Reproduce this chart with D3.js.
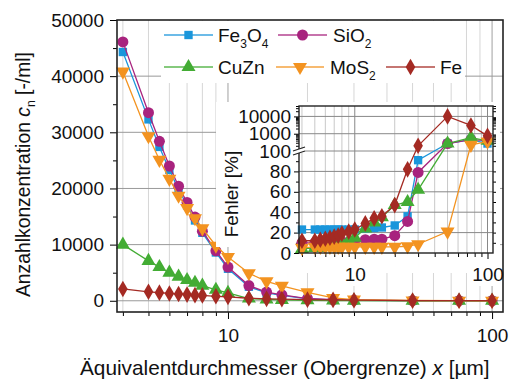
<!DOCTYPE html>
<html><head><meta charset="utf-8">
<script src="https://cdn.jsdelivr.net/npm/d3@7"></script>
<style>
html,body{margin:0;padding:0;background:#fff;}
svg{display:block;font-family:"Liberation Sans",Arial,sans-serif;}
</style></head>
<body><svg id="c" width="513" height="379"></svg>
<script>
// ---- data ----
const sizes = [4,5,5.5,6,6.5,7,7.5,8,9,10,12,14,16,20,25,30,50,75,100];
const seriesNames = ["Fe3O4","SiO2","CuZn","MoS2","Fe"];
const colors = ["#1a96db","#a8237e","#43ac34","#f39320","#a42a23"];
const shapes = ["square","circle","triangle","triangleDown","diamond"];
// main: number concentration [-/ml]
const concFe3O4 = [44300,32300,27400,23300,19800,17000,14300,12100,8600,5700,2500,1400,950,350,150,80,20,8,4];
const concSiO2  = [46100,33500,28400,24000,20400,17500,14900,12400,8900,6000,2700,1550,1050,400,200,100,25,10,5];
const concCuZn  = [10000,7100,6000,5000,4300,3700,3200,2700,1950,1400,400,250,150,80,40,30,5,2,1];
const concMoS2  = [40800,29300,25100,21700,18700,16500,14700,12900,9800,7800,4900,3450,2650,1500,500,200,50,10,5];
const concFe    = [2100,1600,1450,1300,1200,1100,1000,950,800,700,450,350,300,200,150,100,30,15,10];
// inset: error [%]
const errFe3O4 = [23,23,23,23,23,23,23,23,23,23,24,24.5,25,27,36,91,270,450,270];
const errSiO2  = [10,10,10,10,10,10,11,11,11,12,13,13.5,13.5,17,31,79,270,450,400];
const errCuZn  = [4,5,5,6,7,8,9,10,12,15,24,30,35,47,50,62,270,600,390];
const errMoS2  = [5,6,6,6,6,6,6,6,6,6,6,6,6,6,6.6,8.6,21,226,350];
const errFe    = [12,12,13,14,15,16,17,19,21,23,29,34,36,47,82,200,10000,3000,750];
// ticks
const mainYTicks = [0,10000,20000,30000,40000,50000];
const xTickLabels = [10,100];
const insetLinTicks = [0,20,40,60,80];
const insetLogTicks = [100,1000,10000];

const conc = [concFe3O4,concSiO2,concCuZn,concMoS2,concFe];
const errs = [errFe3O4,errSiO2,errCuZn,errMoS2,errFe];

const svg = d3.select("#c");
const FS = 19;

// ---- scales ----
const x = d3.scaleLog().domain([3.8,110]).range([117,503]);
const y = d3.scaleLinear().domain([-2000,50000]).range([312,20]);
const xi = d3.scaleLog().domain([3.8,110]).range([299,493]);
const yiLin = d3.scaleLinear().domain([0,100]).range([253,151]);
const yiLog = d3.scaleLog().domain([100,40000]).range([151,106]);
const yi = v => v <= 100 ? yiLin(v) : yiLog(v);

const minorX = [];
[1,10].forEach(d=>{for(let k=2;k<=9;k++){const v=d*k; if(v>=3.8&&v<=110) minorX.push(v);}});
const majorX = [10,100];

function symbolPath(shape,size){
  const map={square:d3.symbolSquare,circle:d3.symbolCircle,triangle:d3.symbolTriangle,diamond:d3.symbolDiamond,triangleDown:d3.symbolTriangle};
  return d3.symbol().type(map[shape]).size(size)();
}
const sizesSym = {square:70,circle:95,triangle:85,triangleDown:85,diamond:80};

// ---- main plot ----
const g = svg.append("g");
g.selectAll(".vmin").data(minorX).join("line")
  .attr("x1",d=>x(d)).attr("x2",d=>x(d)).attr("y1",20).attr("y2",312)
  .attr("stroke","#d6d6d6").attr("stroke-width",1);
g.selectAll(".vmaj").data(majorX).join("line")
  .attr("x1",d=>x(d)).attr("x2",d=>x(d)).attr("y1",20).attr("y2",312)
  .attr("stroke","#a0a0a0").attr("stroke-width",1);
g.selectAll(".hmaj").data(mainYTicks.slice(0,5)).join("line")
  .attr("x1",117).attr("x2",503).attr("y1",d=>y(d)).attr("y2",d=>y(d))
  .attr("stroke","#999").attr("stroke-width",1);

const yAxis = d3.axisLeft(y).tickValues(mainYTicks).tickFormat(d3.format("d")).tickSize(7).tickPadding(6);
const gy = g.append("g").attr("transform","translate(117,0)").call(yAxis);
gy.select(".domain").remove();
gy.selectAll("text").attr("font-size",FS).attr("fill","#111");
g.append("g").attr("transform","translate(117,0)")
  .call(d3.axisLeft(y).tickValues(d3.range(5000,50000,10000)).tickFormat("").tickSize(4))
  .select(".domain").remove();

const xAxis = d3.axisBottom(x).tickValues(xTickLabels).tickFormat(d3.format("d")).tickSize(7).tickPadding(10);
const gx = g.append("g").attr("transform","translate(0,312)").call(xAxis);
gx.select(".domain").remove();
gx.selectAll("text").attr("font-size",FS).attr("fill","#111");
g.append("g").attr("transform","translate(0,312)")
  .call(d3.axisBottom(x).tickValues(minorX).tickFormat("").tickSize(4))
  .select(".domain").remove();

const line = d3.line().x((d,i)=>x(sizes[i])).y(d=>y(d));
conc.forEach((arr,s)=>{
  const sg = g.append("g");
  sg.append("path").attr("d",line(arr)).attr("fill","none").attr("stroke",colors[s]).attr("stroke-width",1.3);
  sg.selectAll("path.m").data(arr).join("path").attr("class","m")
    .attr("d",symbolPath(shapes[s],sizesSym[shapes[s]]))
    .attr("transform",(d,i)=>`translate(${x(sizes[i])},${y(d)})${shapes[s]==="triangleDown"?" rotate(180)":""}`)
    .attr("fill",colors[s]);
});

g.append("rect").attr("x",117).attr("y",20).attr("width",386).attr("height",292)
  .attr("fill","none").attr("stroke","#222").attr("stroke-width",1.6);

// axis titles (fitted to reference extents)
const yt = svg.append("text").attr("font-size",FS).attr("fill","#111");
yt.append("tspan").text("Anzahlkonzentration ");
yt.append("tspan").attr("font-style","italic").text("c");
yt.append("tspan").attr("class","sub").attr("font-size",12).attr("dy",5).text("n");
yt.append("tspan").attr("dy",-5).text(" [-/ml]");
{
  const w = yt.node().getComputedTextLength();
  const fs = FS*245/w;
  yt.attr("font-size",fs).select(".sub").attr("font-size",fs*0.63);
  yt.attr("transform","translate(30,297) rotate(-90)").attr("text-anchor","start");
}

const xt = svg.append("text").attr("font-size",FS).attr("fill","#111");
xt.append("tspan").text("Äquivalentdurchmesser (Obergrenze) ");
xt.append("tspan").attr("font-style","italic").text("x");
xt.append("tspan").text(" [µm]");
{
  const w = xt.node().getComputedTextLength();
  xt.attr("font-size",FS*410/w).attr("x",80).attr("y",375).attr("text-anchor","start");
}

// ---- legend ----
const lg = svg.append("g");
lg.append("rect").attr("x",161).attr("y",21).attr("width",304).attr("height",62).attr("fill","#fff");
const legendPos = [
  {s:0,x1:164,x2:213,ty:35,tx:218,label:[["Fe",0],["3",1],["O",0],["4",1]]},
  {s:1,x1:278,x2:327,ty:35,tx:333,label:[["SiO",0],["2",1]]},
  {s:2,x1:164,x2:213,ty:67,tx:218,label:[["CuZn",0]]},
  {s:3,x1:276,x2:324,ty:67,tx:330,label:[["MoS",0],["2",1]]},
  {s:4,x1:386,x2:435,ty:67,tx:440,label:[["Fe",0]]}
];
legendPos.forEach(p=>{
  lg.append("line").attr("x1",p.x1).attr("x2",p.x2).attr("y1",p.ty).attr("y2",p.ty)
    .attr("stroke",colors[p.s]).attr("stroke-width",1.5).attr("opacity",0.85);
  lg.append("path").attr("d",symbolPath(shapes[p.s],sizesSym[shapes[p.s]]))
    .attr("transform",`translate(${(p.x1+p.x2)/2},${p.ty})${shapes[p.s]==="triangleDown"?" rotate(180)":""}`)
    .attr("fill",colors[p.s]);
  const t = lg.append("text").attr("x",p.tx).attr("y",p.ty+7).attr("font-size",FS).attr("fill","#111");
  let sub=false;
  p.label.forEach(([str,isSub])=>{
    const ts = t.append("tspan").text(str);
    if(isSub && !sub){ts.attr("font-size",12).attr("dy",6); sub=true;}
    else if(!isSub && sub){ts.attr("dy",-6); sub=false;}
    else if(isSub){ts.attr("font-size",12);}
  });
});

// ---- inset ----
const ig = svg.append("g");
// white backing of the inset layer
[[216,102,284,145],[268,247,232,15],[299,262,201,11],[343,266,22,20],[474,266,28,20]].forEach(r=>{
  ig.append("rect").attr("x",r[0]).attr("y",r[1]).attr("width",r[2]).attr("height",r[3]).attr("fill","#fff");
});
ig.selectAll(".ivmin").data(minorX).join("line")
  .attr("x1",d=>xi(d)).attr("x2",d=>xi(d)).attr("y1",106).attr("y2",253)
  .attr("stroke","#c8c8c8").attr("stroke-width",1);
ig.selectAll(".ivmaj").data(majorX).join("line")
  .attr("x1",d=>xi(d)).attr("x2",d=>xi(d)).attr("y1",106).attr("y2",253)
  .attr("stroke","#888").attr("stroke-width",1);
ig.selectAll(".ihl").data([20,40,60,80,100,1000,10000]).join("line")
  .attr("x1",299).attr("x2",493).attr("y1",d=>yi(d)).attr("y2",d=>yi(d))
  .attr("stroke","#888").attr("stroke-width",1);

const giy1 = ig.append("g").attr("transform","translate(299,0)")
  .call(d3.axisLeft(yiLin).tickValues(insetLinTicks).tickFormat(d3.format("d")).tickSize(5).tickPadding(3));
giy1.select(".domain").remove();
giy1.selectAll("text").attr("font-size",FS).attr("fill","#111");
ig.append("g").attr("transform","translate(299,0)")
  .call(d3.axisLeft(yiLin).tickValues([10,30,50,70,90]).tickFormat("").tickSize(3)).select(".domain").remove();
const giy2 = ig.append("g").attr("transform","translate(299,0)")
  .call(d3.axisLeft(yiLog).tickValues(insetLogTicks).tickFormat(d3.format("d")).tickSize(5).tickPadding(3));
giy2.select(".domain").remove();
giy2.selectAll("text").attr("font-size",FS).attr("fill","#111");
const logMinor=[];
[100,1000,10000].forEach(d=>{for(let k=2;k<=9;k++){const v=d*k; if(v<=40000) logMinor.push(v);}});
ig.append("g").attr("transform","translate(299,0)")
  .call(d3.axisLeft(yiLog).tickValues(logMinor).tickFormat("").tickSize(3)).select(".domain").remove();
ig.append("g").attr("transform","translate(493,0)")
  .call(d3.axisRight(yiLin).tickValues(d3.range(10,100,10)).tickFormat("").tickSize(3)).select(".domain").remove();
ig.append("g").attr("transform","translate(493,0)")
  .call(d3.axisRight(yiLog).tickValues(logMinor).tickFormat("").tickSize(3)).select(".domain").remove();

const gix = ig.append("g").attr("transform","translate(0,253)")
  .call(d3.axisBottom(xi).tickValues(xTickLabels).tickFormat(d3.format("d")).tickSize(6).tickPadding(9));
gix.select(".domain").remove();
gix.selectAll("text").attr("font-size",FS).attr("fill","#111");
ig.append("g").attr("transform","translate(0,253)")
  .call(d3.axisBottom(xi).tickValues(minorX).tickFormat("").tickSize(4)).select(".domain").remove();

const iline = d3.line().x((d,i)=>xi(sizes[i])).y(d=>yi(d));
errs.forEach((arr,s)=>{
  const sg = ig.append("g");
  sg.append("path").attr("d",iline(arr)).attr("fill","none").attr("stroke",colors[s]).attr("stroke-width",1.3);
  sg.selectAll("path.m").data(arr).join("path").attr("class","m")
    .attr("d",symbolPath(shapes[s],sizesSym[shapes[s]]))
    .attr("transform",(d,i)=>`translate(${xi(sizes[i])},${yi(d)})${shapes[s]==="triangleDown"?" rotate(180)":""}`)
    .attr("fill",colors[s]);
});

ig.append("rect").attr("x",299).attr("y",106).attr("width",194).attr("height",147)
  .attr("fill","none").attr("stroke","#222").attr("stroke-width",1.4);
const by = yiLin(100);
ig.append("rect").attr("x",293).attr("y",by-2).attr("width",12).attr("height",4).attr("fill","#fff");
[-2,2].forEach(o=>{
  ig.append("line").attr("x1",293).attr("x2",305).attr("y1",by+o+2).attr("y2",by+o-2)
    .attr("stroke","#222").attr("stroke-width",1.3);
});

svg.append("text").attr("transform","translate(238,194) rotate(-90)")
  .attr("text-anchor","middle").attr("font-size",FS).attr("fill","#111").text("Fehler [%]");
</script></body></html>
